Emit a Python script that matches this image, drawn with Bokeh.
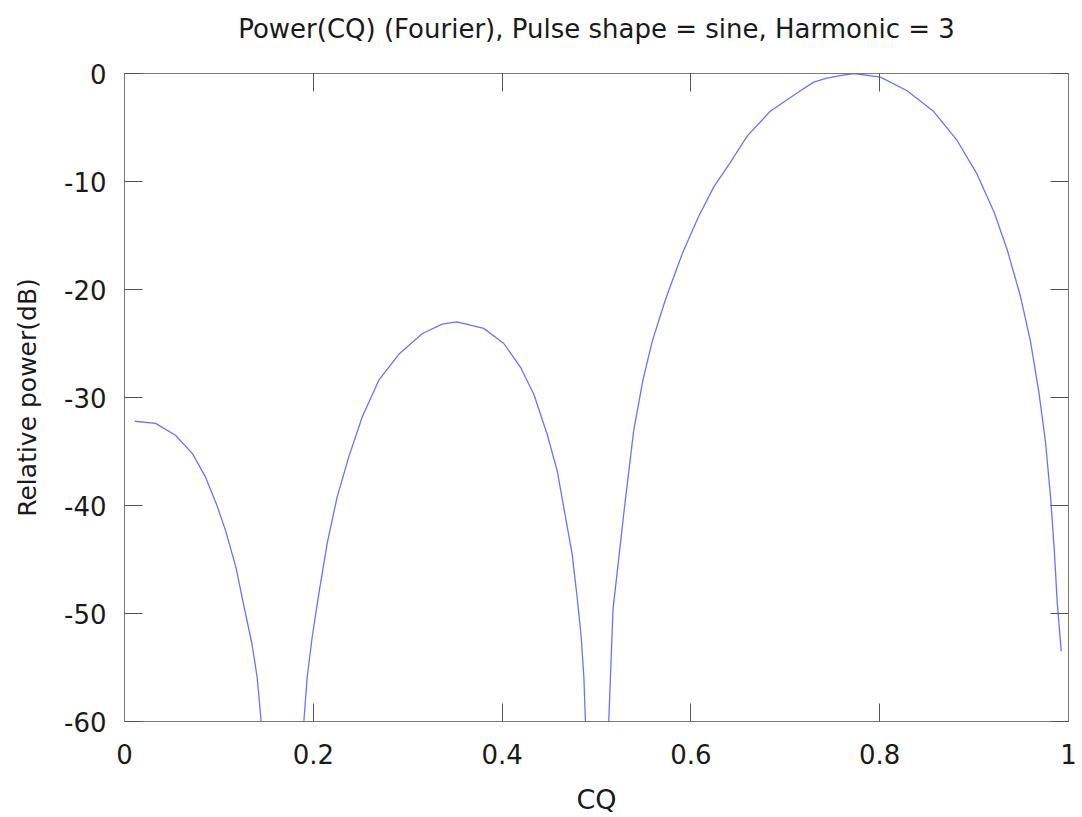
from bokeh.plotting import figure
from bokeh.models import LinearAxis, Range1d, FixedTicker, CustomLabelingPolicy
from bokeh.embed import file_html
from bokeh.resources import INLINE

# ---- data ----
title_text = "Power(CQ) (Fourier), Pulse shape = sine, Harmonic = 3"
x_label = "CQ"
y_label = "Relative power(dB)"

x_ticks = [0, 0.2, 0.4, 0.6, 0.8, 1]
x_tick_labels = ["0", "0.2", "0.4", "0.6", "0.8", "1"]
y_ticks = [-60, -50, -40, -30, -20, -10, 0]
y_tick_labels = ["-60", "-50", "-40", "-30", "-20", "-10", "0"]

lobe1_cq = [0.011, 0.033, 0.054, 0.072, 0.086, 0.098, 0.107, 0.118, 0.126, 0.135, 0.1405, 0.1448]
lobe1_db = [-32.2, -32.4, -33.5, -35.2, -37.4, -40.0, -42.3, -45.7, -49.1, -52.8, -55.9, -60.0]

lobe2_cq = [0.190, 0.1935, 0.1988, 0.2058, 0.2147, 0.2253, 0.2376, 0.2518, 0.2694, 0.2906,
            0.3153, 0.3365, 0.352, 0.3806, 0.4018, 0.4195, 0.4336, 0.4477, 0.4584, 0.466,
            0.4742, 0.4795, 0.4838, 0.4866, 0.4883]
lobe2_db = [-60.0, -55.9, -52.2, -48.2, -43.5, -39.2, -35.5, -31.8, -28.4, -26.0,
            -24.1, -23.2, -23.0, -23.6, -25.0, -27.2, -29.7, -33.4, -36.8, -40.5,
            -44.5, -48.5, -52.2, -55.9, -60.0]

lobe3_cq = [0.513, 0.5175, 0.530, 0.5395, 0.5494, 0.559, 0.573, 0.5908, 0.6084, 0.6243,
            0.642, 0.6596, 0.684, 0.716, 0.730, 0.744, 0.758, 0.7726, 0.8008, 0.829,
            0.857, 0.882, 0.903, 0.921, 0.935, 0.949, 0.9597, 0.9686, 0.9756, 0.981,
            0.985, 0.988, 0.9923]
lobe3_db = [-60.0, -49.6, -39.9, -33.0, -28.3, -24.8, -20.95, -16.7, -13.2, -10.5,
            -8.2, -5.8, -3.5, -1.6, -0.8, -0.43, -0.2, 0.0, -0.34, -1.6,
            -3.5, -6.2, -9.3, -12.8, -16.3, -20.6, -24.8, -29.5, -34.1, -39.2,
            -44.2, -48.9, -53.5]

FONT = "DejaVu Sans"
AXIS_COLOR = "#7a7a7a"
TEXT_COLOR = "#1a1a1a"
LINE_COLOR = "#7070ff"

p = figure(width=1082, height=817,
           x_range=Range1d(0, 1), y_range=Range1d(-60, 0),
           output_backend="svg", toolbar_location=None,
           min_border_left=124, min_border_right=14,
           min_border_top=73, min_border_bottom=96)

p.grid.visible = False
p.outline_line_color = AXIS_COLOR
p.background_fill_color = "white"
p.border_fill_color = "white"

hide_all = CustomLabelingPolicy(code="""
const all = Array.from(indices)
for (const i of all) indices.unset(i)
return indices
""")

def style_axis(ax, ticks, labels, show_labels):
    ax.ticker = FixedTicker(ticks=ticks)
    ax.axis_line_color = AXIS_COLOR
    ax.major_tick_line_color = "#555555"
    ax.major_tick_in = 18
    ax.major_tick_out = 0
    ax.minor_tick_line_color = None
    ax.major_label_text_font = FONT
    ax.major_label_text_color = TEXT_COLOR
    ax.axis_label_text_font = FONT
    ax.axis_label_text_font_style = "normal"
    ax.axis_label_text_color = TEXT_COLOR
    if show_labels:
        ax.major_label_text_font_size = "26px"
        ax.major_label_overrides = {t: l for t, l in zip(ticks, labels)}
    else:
        ax.major_label_text_font_size = "0px"
        ax.major_label_standoff = 0
        ax.major_label_policy = hide_all

style_axis(p.xaxis[0], x_ticks, x_tick_labels, True)
style_axis(p.yaxis[0], y_ticks, y_tick_labels, True)
p.xaxis[0].major_label_standoff = 22
p.yaxis[0].major_label_standoff = 18

p.xaxis[0].axis_label = x_label
p.yaxis[0].axis_label = y_label
p.xaxis[0].axis_label_text_font_size = "27px"
p.yaxis[0].axis_label_text_font_size = "25px"
p.xaxis[0].axis_label_standoff = 17
p.yaxis[0].axis_label_standoff = 19

# top mirror axis carries the chart title as its label
top_axis = LinearAxis()
style_axis(top_axis, x_ticks, x_tick_labels, False)
top_axis.axis_label = title_text
top_axis.axis_label_text_font_size = "26px"
top_axis.axis_label_standoff = 30
p.add_layout(top_axis, "above")

right_axis = LinearAxis()
style_axis(right_axis, y_ticks, y_tick_labels, False)
p.add_layout(right_axis, "right")

for xs, ys in ((lobe1_cq, lobe1_db), (lobe2_cq, lobe2_db), (lobe3_cq, lobe3_db)):
    p.line(xs, ys, line_color=LINE_COLOR, line_width=1.3)

open("out.html", "w").write(file_html(p, INLINE))
